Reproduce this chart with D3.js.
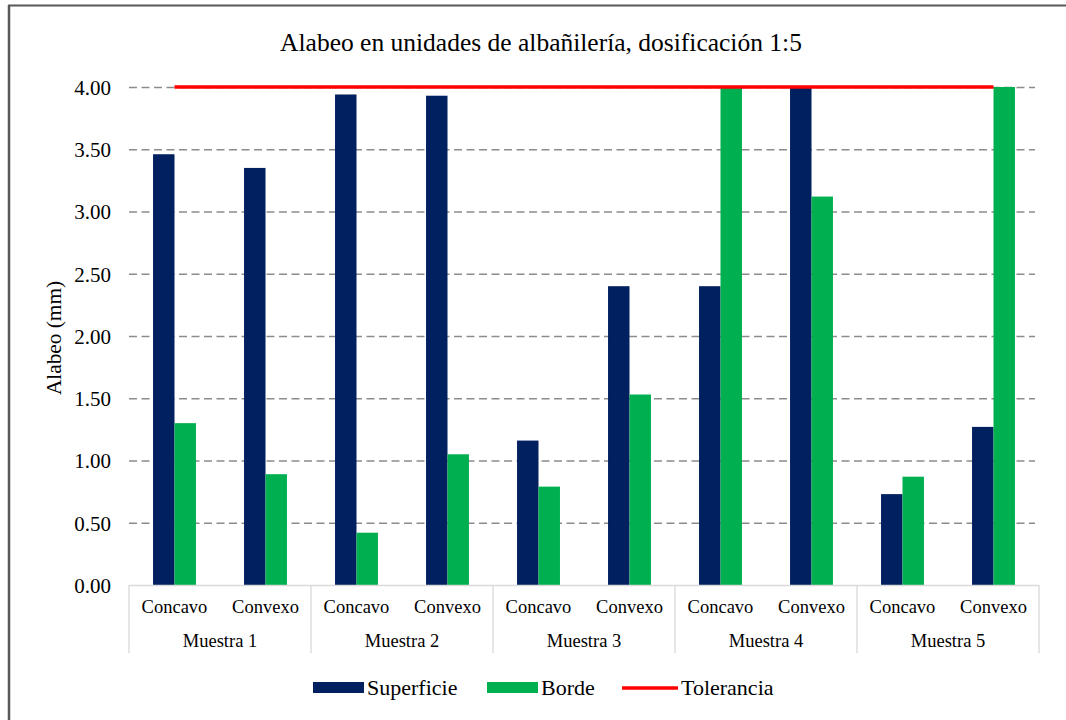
<!DOCTYPE html>
<html>
<head>
<meta charset="utf-8">
<script src="https://cdn.jsdelivr.net/npm/d3@7"></script>
<style>
  html, body { margin: 0; padding: 0; background: #fff; overflow: hidden; }
  svg { display: block; }
</style>
</head>
<body>
<svg id="chart" width="1066" height="720"></svg>
<script>
// Muestras and the two faces measured on each
const muestras = ["Muestra 1", "Muestra 2", "Muestra 3", "Muestra 4", "Muestra 5"];
const caras = ["Concavo", "Convexo"];

// Warping (mm) per face, in order M1-Concavo, M1-Convexo, M2-Concavo, ...
const superficie = [3.46, 3.35, 3.94, 3.93, 1.16, 2.40, 2.40, 4.00, 0.73, 1.27];
const borde      = [1.30, 0.89, 0.42, 1.05, 0.79, 1.53, 4.00, 3.12, 0.87, 4.00];
const tolerancia = [4.00, 4.00, 4.00, 4.00, 4.00, 4.00, 4.00, 4.00, 4.00, 4.00];

const yTicks = [0, 0.5, 1, 1.5, 2, 2.5, 3, 3.5, 4];
const seriesNames = ["Superficie", "Borde", "Tolerancia"];
const colors = { Superficie: "#002060", Borde: "#00B050", Tolerancia: "#FF0000" };

const FONT = "Liberation Serif";
const svg = d3.select("#chart");

// outer frame: left and top edges
svg.append("line").attr("x1", 9).attr("x2", 9).attr("y1", 5).attr("y2", 720)
  .attr("stroke", "#595959").attr("stroke-width", 2.5);
svg.append("line").attr("x1", 8).attr("x2", 1066).attr("y1", 5.5).attr("y2", 5.5)
  .attr("stroke", "#595959").attr("stroke-width", 2);

const plot = { left: 129, right: 1039, top: 87, bottom: 585 };

// one key per muestra/cara pair
const keys = [];
muestras.forEach(m => caras.forEach(c => keys.push(m + "|" + c)));

const x = d3.scaleBand().domain(keys).range([plot.left, plot.right]).paddingInner(0).paddingOuter(0);
const xSub = d3.scaleBand().domain(["Superficie", "Borde"]).range([0, x.bandwidth()]).paddingOuter(1.12).paddingInner(0);
const y = d3.scaleLinear().domain([0, 4]).range([plot.bottom, plot.top]);

function label(sel, size) {
  return sel.style("font-family", FONT).style("font-size", size + "px").attr("fill", "#000");
}

// title
label(svg.append("text"), 25.5)
  .attr("x", 541).attr("y", 51)
  .attr("text-anchor", "middle")
  .text("Alabeo en unidades de albañilería, dosificación 1:5");

// horizontal dashed grid
const grid = svg.append("g")
  .attr("transform", `translate(${plot.left},0)`)
  .call(d3.axisLeft(y).tickValues(yTicks.filter(v => v > 0)).tickSize(-(plot.right - plot.left - 4)).tickFormat(""));
grid.select(".domain").remove();
grid.selectAll(".tick line")
  .attr("stroke", "#8c8c8c").attr("stroke-width", 1.3).attr("stroke-dasharray", "8,4.5");

// y tick labels
const yAxis = svg.append("g")
  .attr("transform", `translate(${plot.left - 18},0)`)
  .call(d3.axisLeft(y).tickValues(yTicks).tickSize(0).tickFormat(d3.format(".2f")));
yAxis.select(".domain").remove();
label(yAxis.selectAll("text"), 21).attr("x", 0).attr("dy", "0.35em");

// y axis title
label(svg.append("text"), 21.3)
  .attr("transform", "translate(61,338) rotate(-90)")
  .attr("text-anchor", "middle")
  .text("Alabeo (mm)");

// bars
const barData = [];
keys.forEach((k, i) => {
  barData.push({ key: k, serie: "Superficie", value: superficie[i] });
  barData.push({ key: k, serie: "Borde", value: borde[i] });
});
svg.append("g").selectAll("rect")
  .data(barData)
  .join("rect")
  .attr("x", d => x(d.key) + xSub(d.serie))
  .attr("width", xSub.bandwidth())
  .attr("y", d => y(d.value))
  .attr("height", d => y(0) - y(d.value))
  .attr("fill", d => colors[d.serie]);

// tolerance line through the category centres
const line = d3.line()
  .x((d, i) => x(keys[i]) + x.bandwidth() / 2)
  .y(d => y(d));
svg.append("path")
  .datum(tolerancia)
  .attr("d", line)
  .attr("fill", "none")
  .attr("stroke", colors.Tolerancia)
  .attr("stroke-width", 3.5);

// category axis: baseline and group separators
const axisCol = "#d9d9d9";
svg.append("line")
  .attr("x1", plot.left).attr("x2", plot.right)
  .attr("y1", plot.bottom + 0.5).attr("y2", plot.bottom + 0.5)
  .attr("stroke", axisCol).attr("stroke-width", 1.3);

const groupX = d3.scaleBand().domain(muestras).range([plot.left, plot.right]);
const seps = muestras.map(m => groupX(m)).concat([plot.right]);
svg.append("g").selectAll("line")
  .data(seps)
  .join("line")
  .attr("x1", d => d).attr("x2", d => d)
  .attr("y1", plot.bottom).attr("y2", 653)
  .attr("stroke", axisCol).attr("stroke-width", 1.3);

// face labels
label(svg.append("g").selectAll("text").data(keys).join("text"), 18.5)
  .attr("x", d => x(d) + x.bandwidth() / 2)
  .attr("y", 613)
  .attr("text-anchor", "middle")
  .text(d => d.split("|")[1]);

// muestra labels
label(svg.append("g").selectAll("text").data(muestras).join("text"), 18.5)
  .attr("x", d => groupX(d) + groupX.bandwidth() / 2)
  .attr("y", 647)
  .attr("text-anchor", "middle")
  .text(d => d);

// legend
const legendItems = [
  { name: seriesNames[0], x: 313, type: "rect" },
  { name: seriesNames[1], x: 487, type: "rect" },
  { name: seriesNames[2], x: 622, type: "line" }
];
const lg = svg.append("g");
legendItems.forEach(it => {
  if (it.type === "rect") {
    lg.append("rect").attr("x", it.x).attr("y", 682).attr("width", 51).attr("height", 11)
      .attr("fill", colors[it.name]);
  } else {
    lg.append("line").attr("x1", it.x).attr("x2", it.x + 56).attr("y1", 688).attr("y2", 688)
      .attr("stroke", colors[it.name]).attr("stroke-width", 3.5);
  }
  label(lg.append("text"), 22)
    .attr("x", it.x + (it.type === "rect" ? 54 : 59)).attr("y", 695)
    .text(it.name);
});
</script>
</body>
</html>
